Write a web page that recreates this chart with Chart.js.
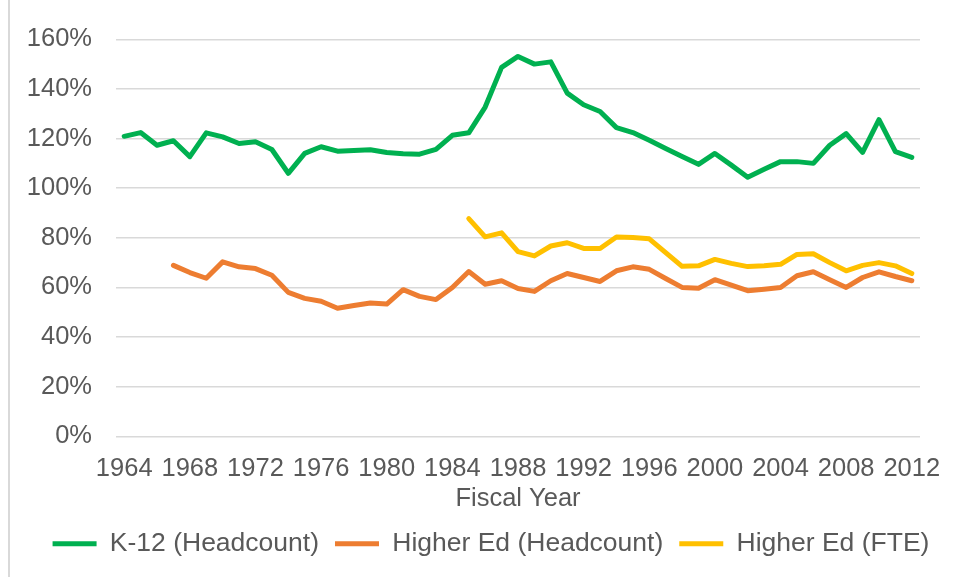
<!DOCTYPE html>
<html>
<head>
<meta charset="utf-8">
<script src="https://cdn.jsdelivr.net/npm/chart.js@4/dist/chart.umd.min.js"></script>
<style>
html,body{margin:0;padding:0;background:#fff;}
#wrap{position:relative;width:958px;height:577px;}
</style>
</head>
<body>
<div id="wrap"><canvas id="c" width="958" height="577"></canvas></div>
<script>
const years = [];
for (let y = 1964; y <= 2012; y++) years.push(String(y));

const k12Headcount = [
  120.9, 122.4, 117.3, 119.1, 112.7, 122.3, 120.7, 118.0, 118.7, 115.6,
  106.0, 114.0, 116.7, 114.9, 115.2, 115.5, 114.4, 113.9, 113.7, 115.6,
  121.3, 122.3, 132.7, 148.7, 153.1, 150.0, 150.9, 138.3, 133.6, 130.9,
  124.4, 122.4, 119.3, 116.0, 112.8, 109.6, 114.0, 109.3, 104.4, 107.6,
  110.7, 110.7, 110.0, 117.3, 122.0, 114.4, 127.6, 114.7, 112.4
];

const higherEdHeadcount = [
  null, null, null, 68.9, 66.0, 63.7, 70.3, 68.3, 67.6, 64.9,
  58.0, 55.6, 54.4, 51.6, 52.7, 53.7, 53.3, 59.1, 56.4, 55.1,
  60.0, 66.4, 61.3, 62.7, 59.6, 58.4, 62.7, 65.6, 64.0, 62.4,
  66.7, 68.3, 67.3, 63.6, 60.0, 59.7, 63.1, 60.9, 58.7, 59.3,
  60.0, 64.7, 66.3, 63.1, 60.0, 64.0, 66.3, 64.4, 62.7
];

const higherEdFTE = [
  null, null, null, null, null, null, null, null, null, null,
  null, null, null, null, null, null, null, null, null, null,
  null, 87.7, 80.4, 82.0, 74.4, 72.7, 76.7, 78.0, 75.7, 75.7,
  80.3, 80.1, 79.6, 74.0, 68.5, 68.7, 71.3, 69.7, 68.4, 68.7,
  69.3, 73.3, 73.6, 70.0, 66.7, 68.9, 70.0, 68.7, 65.6
];

const yTicks = [0, 20, 40, 60, 80, 100, 120, 140, 160];

const FONT = "'Liberation Sans', Arial, sans-serif";
const TEXT = '#595959';

const borderPlugin = {
  id: 'leftBorder',
  afterLayout(chart) {
    const lg = chart.legend;
    if (lg) { lg.left += 31; lg.right += 31; }
  },
  beforeDraw(chart) {
    const ctx = chart.ctx;
    ctx.save();
    ctx.fillStyle = '#fff';
    ctx.fillRect(0, 0, chart.width, chart.height);
    ctx.fillStyle = '#d9d9d9';
    ctx.fillRect(8, 0, 2, chart.height);
    ctx.restore();
  }
};

function ds(label, data, color) {
  return {
    label, data,
    borderColor: color, backgroundColor: color,
    borderWidth: 5, pointRadius: 0, pointHoverRadius: 0,
    tension: 0, spanGaps: false,
    borderCapStyle: 'round', borderJoinStyle: 'round'
  };
}

new Chart(document.getElementById('c'), {
  type: 'line',
  data: {
    labels: years,
    datasets: [
      ds('K-12 (Headcount)', k12Headcount, '#00B050'),
      ds('Higher Ed (Headcount)', higherEdHeadcount, '#ED7D31'),
      ds('Higher Ed (FTE)', higherEdFTE, '#FFC000')
    ]
  },
  options: {
    responsive: false,
    animation: false,
    events: [],
    layout: { padding: { left: 0, right: 38, top: 35, bottom: 10 } },
    plugins: {
      tooltip: { enabled: false },
      legend: {
        position: 'bottom',
        labels: {
          font: { family: FONT, size: 26.5 },
          color: TEXT,
          boxWidth: 44,
          boxHeight: 5,
          padding: 16,
          generateLabels(chart) {
            return chart.data.datasets.map((d, i) => ({
              text: d.label, fillStyle: d.borderColor, strokeStyle: d.borderColor,
              lineWidth: 0, datasetIndex: i, fontColor: TEXT
            }));
          }
        }
      }
    },
    scales: {
      x: {
        type: 'category',
        offset: true,
        grid: { display: false, drawTicks: false },
        border: { display: false },
        ticks: {
          autoSkip: false, maxRotation: 0, minRotation: 0,
          padding: 17,
          font: { family: FONT, size: 25.5 }, color: TEXT,
          callback(v, i) { return (i % 4 === 0) ? years[i] : ''; }
        },
        title: {
          display: true, text: 'Fiscal Year', color: TEXT,
          font: { family: FONT, size: 25.5 }, padding: { top: -17, bottom: 0 }
        }
      },
      y: {
        min: 0, max: 160,
        afterFit(scale) { scale.width = 116; },
        afterBuildTicks(scale) { scale.ticks = yTicks.map(v => ({ value: v })); },
        grid: { color: '#d9d9d9', lineWidth: 1.5, drawTicks: false },
        border: { display: false },
        ticks: {
          padding: 24,
          font: { family: FONT, size: 25.5 }, color: TEXT,
          callback(v) { return v + '%'; }
        }
      }
    }
  },
  plugins: [borderPlugin]
});
</script>
</body>
</html>
